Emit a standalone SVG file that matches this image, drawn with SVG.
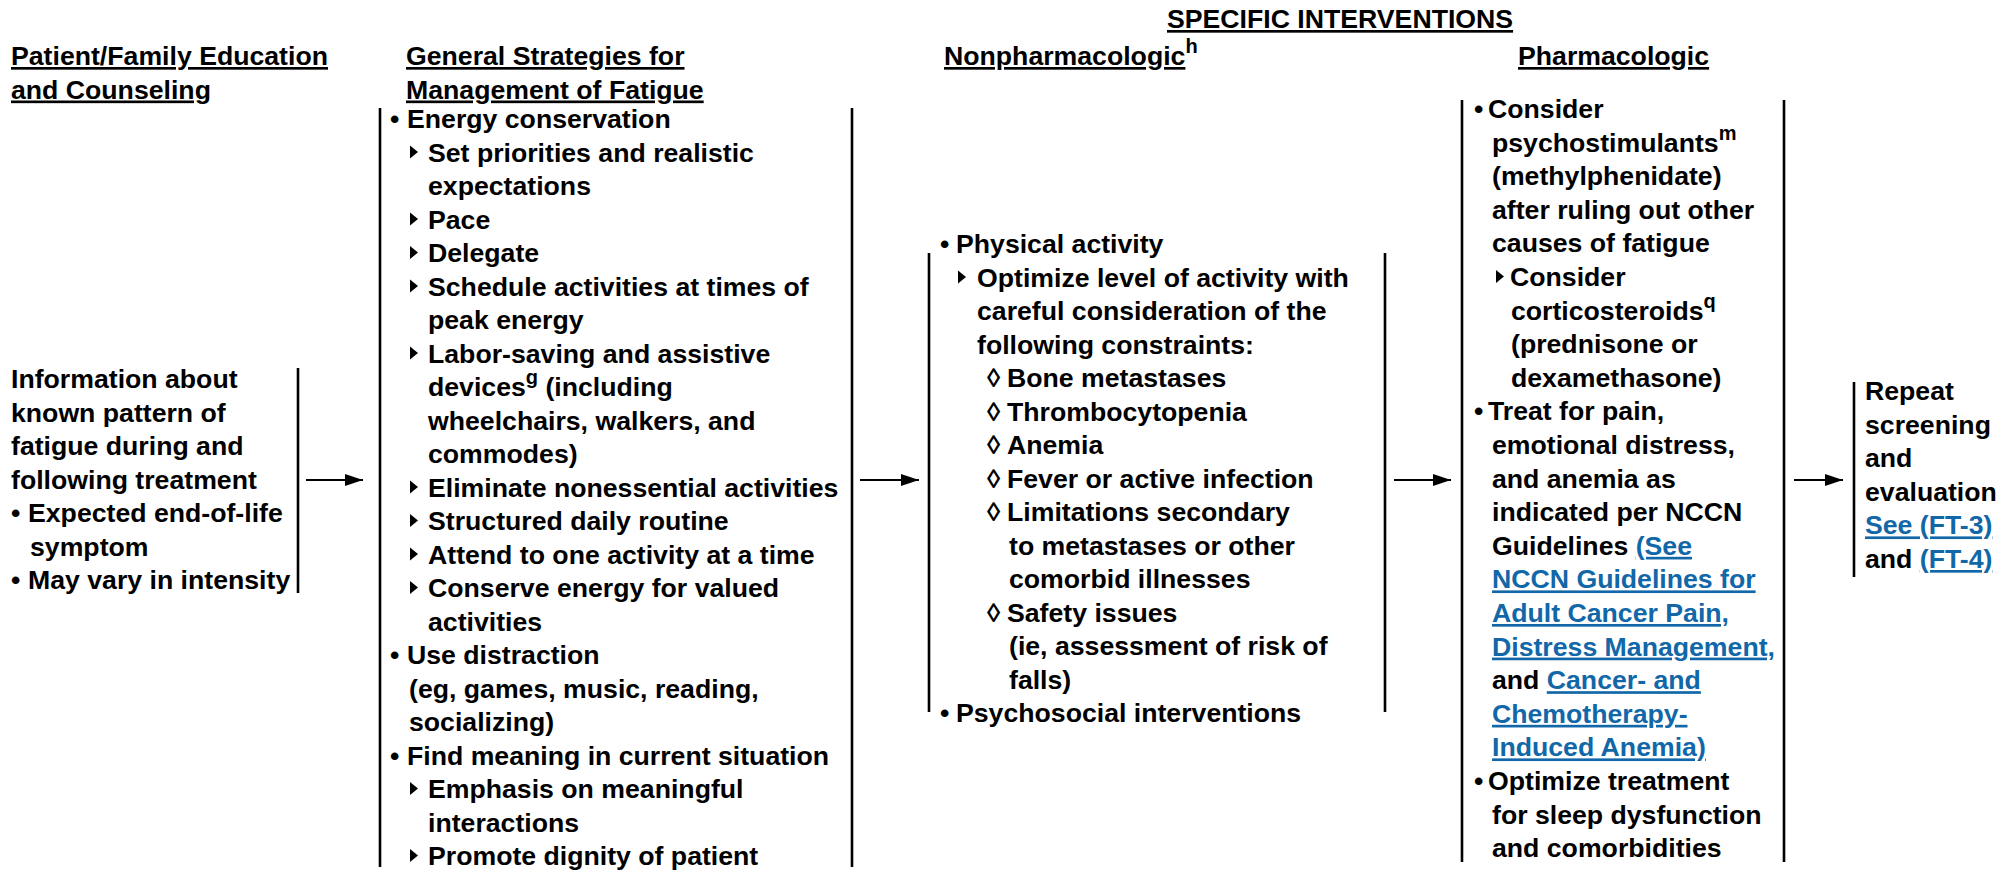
<svg xmlns="http://www.w3.org/2000/svg" xmlns:xlink="http://www.w3.org/1999/xlink" width="2015" height="873" viewBox="0 0 2015 873">
<style>
text{font-family:"Liberation Sans",Arial,sans-serif;font-weight:bold;font-size:26.67px;fill:#000}
.hd{text-decoration:underline}
.sup{font-size:20px}
.lnk{fill:#1167a8;text-decoration:underline}
.bar{stroke:#000;stroke-width:2.6;fill:none}
.arr{stroke:#000;stroke-width:2.2;fill:none;marker-end:url(#ah)}
</style>
<defs>
<marker id="ah" markerUnits="userSpaceOnUse" markerWidth="20" markerHeight="12" refX="18" refY="6" orient="auto">
<path d="M0,0 L18,6 L0,12 Z" fill="#000"/>
</marker>
<path id="tri" d="M0,-16 L8,-9.5 L0,-3 Z" fill="#000"/>
</defs>
<rect width="2015" height="873" fill="#fff"/>

<g id="headers">
<text x="11" y="65"><tspan class="hd">Patient/Family Education</tspan></text>
<text x="11" y="98.5"><tspan class="hd">and Counseling</tspan></text>
<text x="406" y="65"><tspan class="hd">General Strategies for</tspan></text>
<text x="406" y="98.5"><tspan class="hd">Management of Fatigue</tspan></text>
<text x="1167" y="28"><tspan class="hd">SPECIFIC INTERVENTIONS</tspan></text>
<text x="944" y="65"><tspan class="hd">Nonpharmacologic</tspan><tspan class="sup" dy="-12">h</tspan></text>
<text x="1518" y="65"><tspan class="hd">Pharmacologic</tspan></text>
</g>

<g id="node-education">
<line class="bar" x1="298" y1="368" x2="298" y2="593"/>
<text x="11" y="388">Information about</text>
<text x="11" y="421.5">known pattern of</text>
<text x="11" y="455">fatigue during and</text>
<text x="11" y="488.5">following treatment</text>
<text x="11" y="522">•</text><text x="28" y="522">Expected end-of-life</text>
<text x="30" y="555.5">symptom</text>
<text x="11" y="589">•</text><text x="28" y="589">May vary in intensity</text>
</g>

<g id="node-general">
<line class="bar" x1="380" y1="108" x2="380" y2="867"/>
<line class="bar" x1="852" y1="108" x2="852" y2="867"/>
<text x="390" y="128">•</text><text x="407" y="128">Energy conservation</text>
<use xlink:href="#tri" x="410" y="161.5"/><text x="428" y="161.5">Set priorities and realistic</text>
<text x="428" y="195">expectations</text>
<use xlink:href="#tri" x="410" y="228.5"/><text x="428" y="228.5">Pace</text>
<use xlink:href="#tri" x="410" y="262"/><text x="428" y="262">Delegate</text>
<use xlink:href="#tri" x="410" y="295.5"/><text x="428" y="295.5">Schedule activities at times of</text>
<text x="428" y="329">peak energy</text>
<use xlink:href="#tri" x="410" y="362.5"/><text x="428" y="362.5">Labor-saving and assistive</text>
<text x="428" y="396">devices<tspan class="sup" dy="-12">g</tspan><tspan dy="12"> (including</tspan></text>
<text x="428" y="429.5">wheelchairs, walkers, and</text>
<text x="428" y="463">commodes)</text>
<use xlink:href="#tri" x="410" y="496.5"/><text x="428" y="496.5">Eliminate nonessential activities</text>
<use xlink:href="#tri" x="410" y="530"/><text x="428" y="530">Structured daily routine</text>
<use xlink:href="#tri" x="410" y="563.5"/><text x="428" y="563.5">Attend to one activity at a time</text>
<use xlink:href="#tri" x="410" y="597"/><text x="428" y="597">Conserve energy for valued</text>
<text x="428" y="630.5">activities</text>
<text x="390" y="664">•</text><text x="407" y="664">Use distraction</text>
<text x="409" y="697.5">(eg, games, music, reading,</text>
<text x="409" y="731">socializing)</text>
<text x="390" y="764.5">•</text><text x="407" y="764.5">Find meaning in current situation</text>
<use xlink:href="#tri" x="410" y="798"/><text x="428" y="798">Emphasis on meaningful</text>
<text x="428" y="831.5">interactions</text>
<use xlink:href="#tri" x="410" y="865"/><text x="428" y="865">Promote dignity of patient</text>
</g>

<g id="node-nonpharm">
<line class="bar" x1="929" y1="253" x2="929" y2="712"/>
<line class="bar" x1="1385" y1="253" x2="1385" y2="712"/>
<text x="940" y="253">•</text><text x="956" y="253">Physical activity</text>
<use xlink:href="#tri" x="958" y="286.5"/><text x="977" y="286.5">Optimize level of activity with</text>
<text x="977" y="320">careful consideration of the</text>
<text x="977" y="353.5">following constraints:</text>
<text x="987" y="387" font-weight="normal">◊</text><text x="1007" y="387">Bone metastases</text>
<text x="987" y="420.5" font-weight="normal">◊</text><text x="1007" y="420.5">Thrombocytopenia</text>
<text x="987" y="454" font-weight="normal">◊</text><text x="1007" y="454">Anemia</text>
<text x="987" y="487.5" font-weight="normal">◊</text><text x="1007" y="487.5">Fever or active infection</text>
<text x="987" y="521" font-weight="normal">◊</text><text x="1007" y="521">Limitations secondary</text>
<text x="1009" y="554.5">to metastases or other</text>
<text x="1009" y="588">comorbid illnesses</text>
<text x="987" y="621.5" font-weight="normal">◊</text><text x="1007" y="621.5">Safety issues</text>
<text x="1009" y="655">(ie, assessment of risk of</text>
<text x="1009" y="688.5">falls)</text>
<text x="940" y="722">•</text><text x="956" y="722">Psychosocial interventions</text>
</g>

<g id="node-pharm">
<line class="bar" x1="1462" y1="100" x2="1462" y2="862"/>
<line class="bar" x1="1784" y1="100" x2="1784" y2="862"/>
<text x="1474" y="118">•</text><text x="1488" y="118">Consider</text>
<text x="1492" y="151.6">psychostimulants<tspan class="sup" dy="-12">m</tspan></text>
<text x="1492" y="185.2">(methylphenidate)</text>
<text x="1492" y="218.8">after ruling out other</text>
<text x="1492" y="252.4">causes of fatigue</text>
<use xlink:href="#tri" x="1496" y="286"/><text x="1510" y="286">Consider</text>
<text x="1511" y="319.6">corticosteroids<tspan class="sup" dy="-12">q</tspan></text>
<text x="1511" y="353.2">(prednisone or</text>
<text x="1511" y="386.8">dexamethasone)</text>
<text x="1474" y="420.4">•</text><text x="1488" y="420.4">Treat for pain,</text>
<text x="1492" y="454">emotional distress,</text>
<text x="1492" y="487.6">and anemia as</text>
<text x="1492" y="521.2">indicated per NCCN</text>
<text x="1492" y="554.8">Guidelines <tspan class="lnk">(See</tspan></text>
<text x="1492" y="588.4" class="lnk">NCCN Guidelines for</text>
<text x="1492" y="622" class="lnk">Adult Cancer Pain,</text>
<text x="1492" y="655.6" class="lnk">Distress Management,</text>
<text x="1492" y="689.2">and <tspan class="lnk">Cancer- and</tspan></text>
<text x="1492" y="722.8" class="lnk">Chemotherapy-</text>
<text x="1492" y="756.4" class="lnk">Induced Anemia)</text>
<text x="1474" y="790">•</text><text x="1488" y="790">Optimize treatment</text>
<text x="1492" y="823.6">for sleep dysfunction</text>
<text x="1492" y="857.2">and comorbidities</text>
</g>

<g id="node-repeat">
<line class="bar" x1="1854" y1="382" x2="1854" y2="577"/>
<text x="1865" y="400">Repeat</text>
<text x="1865" y="433.6">screening</text>
<text x="1865" y="467.2">and</text>
<text x="1865" y="500.8">evaluation</text>
<text x="1865" y="534.4" class="lnk">See (FT-3)</text>
<text x="1865" y="568">and <tspan class="lnk">(FT-4)</tspan></text>
</g>

<g id="connectors">
<line class="arr" x1="306" y1="480" x2="363" y2="480"/>
<line class="arr" x1="860" y1="480" x2="919" y2="480"/>
<line class="arr" x1="1394" y1="480" x2="1451" y2="480"/>
<line class="arr" x1="1794" y1="480" x2="1843" y2="480"/>
</g>
</svg>
